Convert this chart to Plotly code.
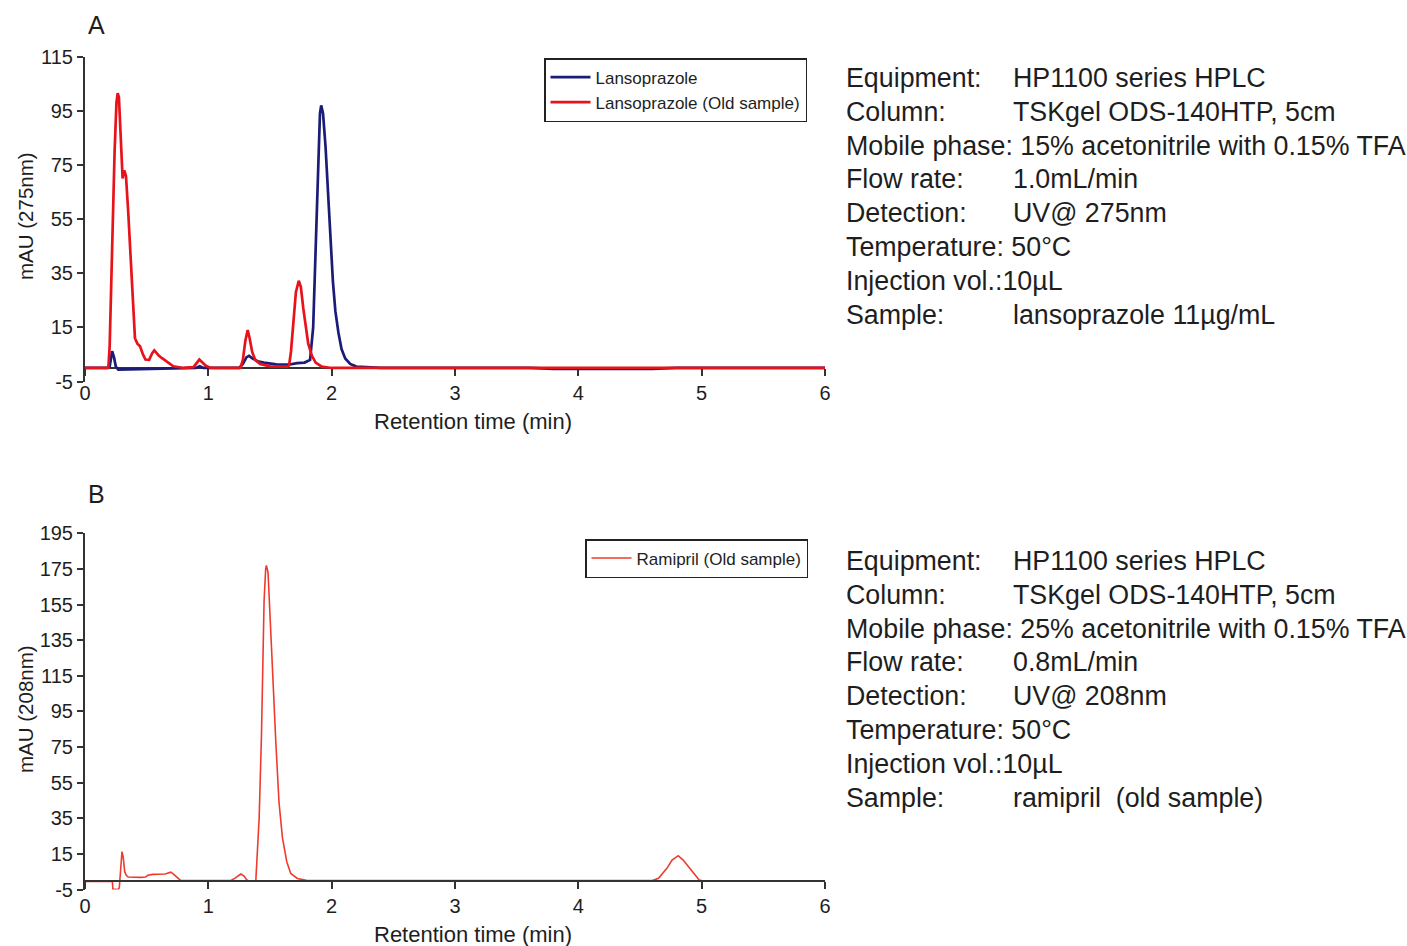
import plotly.graph_objects as go

W, H = 1407, 946
FONT = "Liberation Sans, Arial, sans-serif"
INK = "#1e1e1e"

# ---------------- data: panel A (lansoprazole, 275 nm) ----------------
a_blue_name = "Lansoprazole"
a_blue_t = [0, 0.18, 0.20, 0.21, 0.22, 0.235, 0.25, 0.27, 0.35, 0.5, 0.8, 0.9, 0.93, 0.96,
            1.25, 1.28, 1.31, 1.33, 1.36, 1.40, 1.45, 1.55, 1.65, 1.72, 1.78, 1.825,
            1.85, 1.87, 1.89, 1.905, 1.915, 1.93, 1.95, 1.97, 1.99, 2.01, 2.03, 2.055,
            2.08, 2.11, 2.15, 2.2, 2.4, 3.6, 3.8, 4.6, 4.8, 6.0]
a_blue_v = [0, 0, 0.5, 3, 6.2, 4, 0.5, -0.6, -0.5, -0.3, -0.2, 0, 0.6, 0,
            0, 1.5, 4, 4.5, 3.5, 2.5, 2, 1.3, 1.2, 1.8, 2, 3,
            15, 45, 78, 94, 97, 94, 82, 65, 46, 32, 21, 13,
            7, 3.5, 1.5, 0.5, 0, 0, -0.3, -0.3, 0, 0]

a_red_name = "Lansoprazole (Old sample)"
a_red_t = [0, 0.189, 0.20, 0.22, 0.24, 0.255, 0.265, 0.275, 0.29, 0.305, 0.318, 0.332,
           0.35, 0.365, 0.38, 0.395, 0.405, 0.425, 0.446, 0.47, 0.49, 0.52, 0.545,
           0.562, 0.58, 0.60, 0.622, 0.662, 0.716, 0.8, 0.88, 0.927, 0.98, 1.02,
           1.26, 1.28, 1.30, 1.319, 1.335, 1.355, 1.38, 1.42, 1.5, 1.64, 1.655, 1.67,
           1.69, 1.71, 1.733, 1.75, 1.77, 1.79, 1.81, 1.84, 1.87, 1.92, 2.0, 6.0]
a_red_v = [0, 0, 8, 45, 80, 98, 101.5, 100, 85, 70, 73, 71,
           58, 45, 35, 20, 11, 9, 8, 5, 3.1, 3, 5.5,
           6.5, 5.5, 4.5, 3.7, 2.4, 0.6, 0, 0.3, 3.1, 0.8, 0,
           0, 3, 10, 14, 11, 6, 3, 1.5, 0.6, 0.5, 1, 6,
           18, 28, 32.2, 30, 22, 15, 9, 4.5, 2, 0.5, 0, 0]

# ---------------- data: panel B (ramipril, 208 nm) ----------------
b_name = "Ramipril (Old sample)"
b_t = [0, 0.2, 0.222, 0.226, 0.27, 0.278, 0.29, 0.30, 0.31, 0.322, 0.335, 0.35, 0.45,
       0.49, 0.51, 0.55, 0.65, 0.696, 0.72, 0.75, 0.777, 1.18, 1.22, 1.263, 1.29,
       1.31, 1.33, 1.385, 1.398, 1.412, 1.431, 1.452, 1.465, 1.471, 1.484, 1.501,
       1.520, 1.547, 1.573, 1.601, 1.636, 1.668, 1.722, 1.803, 4.6, 4.65, 4.718,
       4.76, 4.81, 4.85, 4.88, 4.934, 4.98, 5.0]
b_v = [-0.5, -0.6, -0.5, -4.8, -5, -4, 10, 16.3, 13, 5, 3, 2, 1.8,
       2, 3, 3.5, 3.7, 4.7, 3.5, 1.5, 0, 0, 1.5, 3.7, 2.5,
       0.5, -0.3, 0, 14, 35, 82, 157, 175, 177, 173, 151,
       119, 78, 44, 24, 10.6, 4, 1.2, 0, 0, 1.3, 6.9,
       11.5, 14, 11.5, 8.8, 4.1, 0.3, 0]

x_ticks = [0, 1, 2, 3, 4, 5, 6]
ya_ticks = list(range(-5, 116, 20))
yb_ticks = list(range(-5, 196, 20))
ya_labels = [str(v) for v in ya_ticks]
yb_labels = [str(v) for v in yb_ticks]
ya_range = [-5, 115]
yb_range = [-5, 195]

# condition texts
cond_a_labels = ["Equipment:", "Column:", "Mobile phase: 15% acetonitrile with 0.15% TFA",
                 "Flow rate:", "Detection:", "Temperature: 50°C", "Injection vol.:10µL", "Sample:"]
cond_a_values = ["HP1100 series HPLC", "TSKgel ODS-140HTP, 5cm", "", "1.0mL/min",
                 "UV@ 275nm", "", "", "lansoprazole 11µg/mL"]
cond_b_labels = ["Equipment:", "Column:", "Mobile phase: 25% acetonitrile with 0.15% TFA",
                 "Flow rate:", "Detection:", "Temperature: 50°C", "Injection vol.:10µL", "Sample:"]
cond_b_values = ["HP1100 series HPLC", "TSKgel ODS-140HTP, 5cm", "", "0.8mL/min",
                 "UV@ 208nm", "", "", "ramipril\u00a0 (old sample)"]

# ---------------- layout geometry (pixels -> paper) ----------------
def px(x):
    return x / W

def py(y):
    return 1 - y / H

x_dom = [px(85), px(825)]
ya_dom = [py(381.5), py(56.7)]
yb_dom = [py(889.5), py(533.3)]

def zero_pos(dom, rng):
    return dom[0] + (0 - rng[0]) / (rng[1] - rng[0]) * (dom[1] - dom[0])

fig = go.Figure()
fig.add_trace(go.Scatter(x=a_blue_t, y=a_blue_v, mode="lines", name=a_blue_name,
                         line=dict(color="#1b1b78", width=2.7), xaxis="x", yaxis="y",
                         legend="legend"))
fig.add_trace(go.Scatter(x=a_red_t, y=a_red_v, mode="lines", name=a_red_name,
                         line=dict(color="#e8121a", width=2.7), xaxis="x", yaxis="y",
                         legend="legend"))
fig.add_trace(go.Scatter(x=b_t, y=b_v, mode="lines", name=b_name,
                         line=dict(color="#ee3b2e", width=1.6), xaxis="x2", yaxis="y2",
                         legend="legend2"))

axis_common = dict(showgrid=False, zeroline=False, showline=True, linecolor="#333333",
                   linewidth=2, ticks="outside", tickwidth=2, tickcolor="#333333",
                   tickfont=dict(family=FONT, size=20, color=INK), automargin=False)

fig.update_layout(
    width=W, height=H,
    margin=dict(l=0, r=0, t=0, b=0),
    paper_bgcolor="white", plot_bgcolor="white",
    font=dict(family=FONT, color=INK),
    xaxis=dict(domain=x_dom, range=[0, 6], tickvals=x_ticks, anchor="free",
               position=zero_pos(ya_dom, ya_range), ticklen=7, layer="below traces",
               **axis_common),
    yaxis=dict(domain=ya_dom, range=ya_range, tickvals=ya_ticks, ticktext=ya_labels,
               anchor="x", ticklen=6, **axis_common),
    xaxis2=dict(domain=x_dom, range=[0, 6], tickvals=x_ticks, anchor="free",
                position=zero_pos(yb_dom, yb_range), ticklen=7, layer="above traces",
                **axis_common),
    yaxis2=dict(domain=yb_dom, range=yb_range, tickvals=yb_ticks, ticktext=yb_labels,
                anchor="x2", ticklen=6, **axis_common),
    legend=dict(x=px(807), xanchor="right", y=py(58), yanchor="top",
                bgcolor="white", bordercolor="#222222", borderwidth=1.5,
                font=dict(family=FONT, size=17, color=INK), itemwidth=40),
    legend2=dict(x=px(808), xanchor="right", y=py(539), yanchor="top",
                 bgcolor="white", bordercolor="#222222", borderwidth=1.5,
                 font=dict(family=FONT, size=17, color=INK), itemwidth=40),
    showlegend=True,
)

ann = []
# panel letters
ann.append(dict(text="A", x=px(96.5), y=py(25), xref="paper", yref="paper", showarrow=False,
                font=dict(family=FONT, size=25, color=INK), xanchor="center", yanchor="middle"))
ann.append(dict(text="B", x=px(96.5), y=py(494), xref="paper", yref="paper", showarrow=False,
                font=dict(family=FONT, size=25, color=INK), xanchor="center", yanchor="middle"))
# axis titles
for yc in (421, 934):
    ann.append(dict(text="Retention time (min)", x=px(473), y=py(yc), xref="paper",
                    yref="paper", showarrow=False, xanchor="center", yanchor="middle",
                    font=dict(family=FONT, size=22, color=INK)))
for txt, yc in (("mAU (275nm)", 216), ("mAU (208nm)", 709)):
    ann.append(dict(text=txt, x=px(25), y=py(yc), xref="paper", yref="paper",
                    showarrow=False, textangle=-90, xanchor="center", yanchor="middle",
                    font=dict(family=FONT, size=20.5, color=INK)))
# condition blocks
for labels, values, y0 in ((cond_a_labels, cond_a_values, 78), (cond_b_labels, cond_b_values, 561)):
    for i, (lab, val) in enumerate(zip(labels, values)):
        yc = y0 + i * 33.8
        ann.append(dict(text=lab, x=px(844), y=py(yc), xref="paper", yref="paper",
                        showarrow=False, xanchor="left", yanchor="middle",
                        font=dict(family=FONT, size=26.8, color=INK)))
        if val:
            ann.append(dict(text=val, x=px(1011), y=py(yc), xref="paper", yref="paper",
                            showarrow=False, xanchor="left", yanchor="middle",
                            font=dict(family=FONT, size=26.8, color=INK)))
fig.update_layout(annotations=ann)

fig.write_html("out.html",
               config={"displayModeBar": False},
               post_script="document.body.style.margin='0px';"
                           "document.body.style.overflow='hidden';")
